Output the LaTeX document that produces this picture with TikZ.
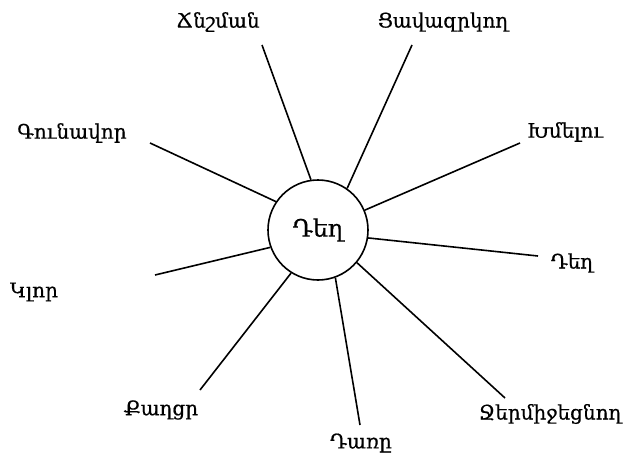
\documentclass[tikz,border=0pt]{standalone}
\usepackage{fontspec}
\setmainfont{DejaVu Serif}[FakeBold=0.6]
\usetikzlibrary{positioning}

\begin{document}
\begin{tikzpicture}[
    x=1pt, y=-1pt,
    hub/.style={
        circle,
        draw,
        line width=1.6pt,
        minimum size=100pt,
        inner sep=0pt,
        font=\fontsize{24}{28}\selectfont
    },
    word/.style={
        inner sep=1pt,
        font=\fontsize{20}{24}\selectfont
    },
    spoke/.style={
        line width=1.6pt
    }
]
\useasboundingbox (0,0) rectangle (626,463);

% Centre
\node[hub] (center) at (318,230) {Դեղ};

% Words
\node[word] (pressure) at (218,22) {Ճնշման};
\node[word] (painkiller) at (443,22) {Ցավազրկող};
\node[word] (colored) at (72,133) {Գունավոր};
\node[word] (drinking) at (565,132) {Խմելու};
\node[word] (drug) at (572,263) {Դեղ};
\node[word] (round) at (34,292) {Կլոր};
\node[word] (sweet) at (161,410) {Քաղցր};
\node[word] (bitter) at (361,443) {Դառը};
\node[word] (fever) at (550,414) {Ջերմիջեցնող};

% Spoke ends
\coordinate (e1) at (262,45);
\coordinate (e2) at (412,45);
\coordinate (e3) at (150,143);
\coordinate (e4) at (520,143);
\coordinate (e5) at (538,256);
\coordinate (e6) at (155,275);
\coordinate (e7) at (200,390);
\coordinate (e8) at (360,425);
\coordinate (e9) at (505,398);

% Spokes
\foreach \a/\e in {98/e1, 55/e2, 146/e3, 23/e4, -9/e5, 200/e6, 238/e7, 290/e8, -40/e9}
    \draw[spoke] (center.\a) -- (\e);

\end{tikzpicture}
\end{document}
